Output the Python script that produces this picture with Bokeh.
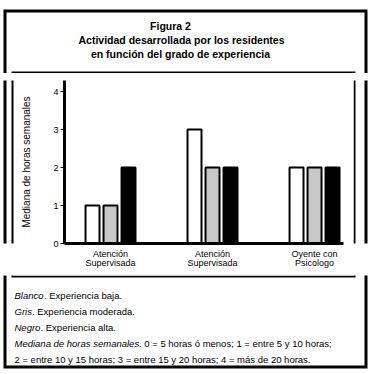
from bokeh.plotting import figure
from bokeh.models import FixedTicker, ColumnDataSource
from bokeh.transform import dodge
from bokeh.layouts import column, row
from bokeh.core.properties import value
from bokeh.embed import file_html
from bokeh.resources import INLINE

# ---- data ----
categories = ["Atención\nSupervisada", "Atención\nSupervisada", "Oyente con\nPsicologo"]
blanco = [1, 3, 2]   # experiencia baja
gris = [1, 2, 2]     # experiencia moderada
negro = [2, 2, 2]    # experiencia alta
y_ticks = [0, 1, 2, 3, 4]
y_label = "Mediana de horas semanales"
title_lines = ["Figura 2",
               "Actividad desarrollada por los residentes",
               "en función del grado de experiencia"]
note_italic = ["Blanco", "Gris", "Negro", "Mediana de horas semanales", ""]
note_normal = [". Experiencia baja.",
               ". Experiencia moderada.",
               ". Experiencia alta.",
               ". 0 = 5 horas ó menos; 1 = entre 5 y 10 horas;",
               "2 = entre 10 y 15 horas; 3 = entre 15 y 20 horas; 4 = más de 20 horas."]

FONT = "Liberation Sans"
W = 372
TOP_H, MID_H, BOT_H = 73, 202, 99
LS_W, RS_W = 14, 19
CH_W = W - LS_W - RS_W


def deco(w, h):
    f = figure(width=w, height=h, x_range=(0, w), y_range=(h, 0),
               x_axis_type=None, y_axis_type=None, output_backend="svg",
               toolbar_location=None, min_border=0)
    f.outline_line_color = None
    f.grid.visible = False
    f.background_fill_color = "white"
    f.border_fill_color = "white"
    return f


# ---- top: title + borders ----
top = deco(W, TOP_H)
top.line([4.5, 4.5, 365.5, 365.5], [TOP_H + 2, 10.5, 10.5, TOP_H + 2],
         line_color="black", line_width=3, line_join="miter")
top.line([12, 12, 354, 354], [TOP_H + 2, 72, 72, TOP_H + 2],
         line_color="black", line_width=2, line_join="miter")
top.text(x=[170, 181, 180], y=[25, 39, 53], text=title_lines,
         text_font=value(FONT), text_font_size="10.5px", text_font_style="bold",
         text_align="center", text_baseline="alphabetic", text_color="black")

# ---- side strips ----
ls = deco(LS_W, MID_H)
ls.segment(x0=[4.5, 12], y0=[-2, -2], x1=[4.5, 12], y1=[MID_H + 2, MID_H + 2],
           line_color="black", line_width=[3, 2])
rs = deco(RS_W, MID_H)
rs.segment(x0=[1, 12.5], y0=[-2, -2], x1=[1, 12.5], y1=[MID_H + 2, MID_H + 2],
           line_color="black", line_width=[2, 3])

# ---- chart ----
FL, FR, FT, FB = 64, 343, 80, 243      # page px of plot frame
X0, Y0 = LS_W, TOP_H                   # page offset of chart canvas
pos = list(range(1, len(categories) + 1))
src = ColumnDataSource(dict(x=pos, blanco=blanco, gris=gris, negro=negro))

chart = figure(width=CH_W, height=MID_H, x_range=(0.549, 3.284), y_range=(0, 4.29),
               output_backend="svg", toolbar_location=None,
               min_border_left=FL - X0, min_border_right=(X0 + CH_W) - FR,
               min_border_top=FT - Y0, min_border_bottom=(Y0 + MID_H) - FB)
chart.background_fill_color = "white"
chart.border_fill_color = "white"
chart.outline_line_color = None
chart.grid.visible = False

bw, step = 0.137, 0.1765
chart.vbar(x=dodge("x", -step), top="blanco", width=bw, source=src,
           fill_color="white", line_color="black", line_width=2)
chart.vbar(x=dodge("x", 0), top="gris", width=bw, source=src,
           fill_color="#c8c8c8", line_color="black", line_width=2)
chart.vbar(x=dodge("x", step), top="negro", width=bw, source=src,
           fill_color="black", line_color="black", line_width=2)

xa = chart.xaxis[0]
xa.ticker = FixedTicker(ticks=pos)
xa.major_label_overrides = {x: c for x, c in zip(pos, categories)}
xa.major_tick_line_color = None
xa.minor_tick_line_color = None
xa.axis_line_width = 3
xa.major_label_standoff = -1
xa.major_label_text_font = FONT
xa.major_label_text_font_size = "9px"
xa.major_label_text_line_height = 0.95
xa.major_label_text_color = "black"

ya = chart.yaxis[0]
ya.ticker = FixedTicker(ticks=y_ticks)
ya.minor_tick_line_color = None
ya.major_tick_in = 0
ya.major_tick_out = 4
ya.axis_line_width = 3
ya.major_label_standoff = 2
ya.major_label_text_font = FONT
ya.major_label_text_font_size = "9px"
ya.major_label_text_color = "black"
ya.axis_label = y_label
ya.axis_label_text_font = FONT
ya.axis_label_text_font_size = "10px"
ya.axis_label_text_font_style = "normal"
ya.axis_label_text_color = "black"
ya.axis_label_standoff = 18

# ---- bottom: footnote + borders ----
B0 = TOP_H + MID_H
bot = deco(W, BOT_H)
bot.line([4.5, 4.5, 365.5, 365.5], [-2, 366.5 - B0, 366.5 - B0, -2],
         line_color="black", line_width=3, line_join="miter")
bot.line([12, 12, 354, 354], [-2, 276 - B0, 276 - B0, -2],
         line_color="black", line_width=2, line_join="miter")
base = [295 - B0 + i * 16 for i in range(len(note_normal))]
bot.text(x=[14] * len(note_italic), y=base, text=note_italic,
         text_font=value(FONT), text_font_size="9.5px", text_font_style="italic",
         text_align="left", text_baseline="alphabetic", text_color="black")
bot.text(x=[43.5, 31.5, 40, 138.5, 14], y=base, text=note_normal,
         text_font=value(FONT), text_font_size="9.5px", text_font_style="normal",
         text_align="left", text_baseline="alphabetic", text_color="black")

p = column(top, row(ls, chart, rs), bot)
open("out.html", "w").write(file_html(p, INLINE))
